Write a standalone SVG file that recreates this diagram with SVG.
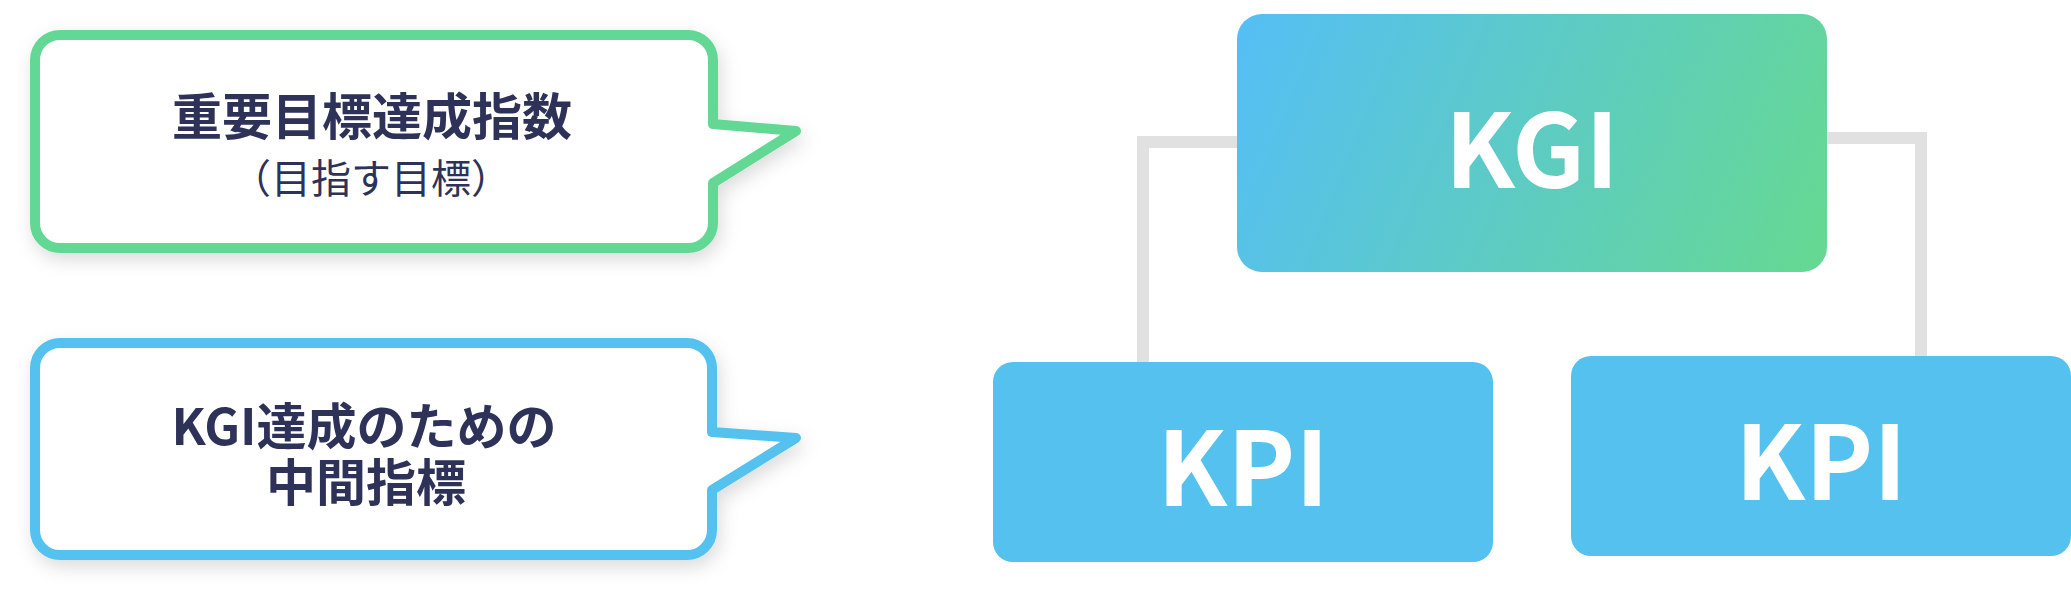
<svg xmlns="http://www.w3.org/2000/svg" width="2071" height="604" viewBox="0 0 2071 604">
  <defs>
    <linearGradient id="kgiGrad" gradientUnits="userSpaceOnUse" x1="1250" y1="30" x2="1815" y2="260">
      <stop offset="0" stop-color="#55bff3"/>
      <stop offset="1" stop-color="#65d893"/>
    </linearGradient>
    <filter id="shadow" x="-10%" y="-20%" width="125%" height="150%">
      <feDropShadow dx="3" dy="7" stdDeviation="9" flood-color="#000000" flood-opacity="0.14"/>
    </filter>
    <style>
      .bubble { fill: #ffffff; stroke-width: 10; stroke-linejoin: round; filter: url(#shadow); }
      .green { stroke: #64d794; }
      .blue { stroke: #55c1ef; }
      .label { font-family: "Noto Sans CJK JP", "Noto Sans", sans-serif; fill: #2e3258; text-anchor: middle; }
      .bold { font-weight: 700; font-size: 50px; }
      .sub { font-weight: 400; font-size: 40px; }
      .box-text { font-family: "Noto Sans CJK JP", "Noto Sans", sans-serif; font-weight: 700; font-size: 102px; fill: #ffffff; text-anchor: middle; }
      .conn { fill: none; stroke: #e1e1e1; stroke-width: 12; stroke-linejoin: miter; }
      .kpi { fill: #55c1ef; }
    </style>
  </defs>

  <g id="connectors">
    <path class="conn" d="M1240,142 H1143 V365"/>
    <path class="conn" d="M1824,138 H1921 V359"/>
  </g>

  <g id="bubble-kgi-desc">
    <path class="bubble green" d="M60,35 H688 A25,25 0 0 1 713,60 V124 L796,131 L713,183 V223 A25,25 0 0 1 688,248 H60 A25,25 0 0 1 35,223 V60 A25,25 0 0 1 60,35 Z"/>
    <text class="label bold" x="372" y="135">重要目標達成指数</text>
    <text class="label sub" x="371" y="193">（目指す目標）</text>
  </g>

  <g id="bubble-kpi-desc">
    <path class="bubble blue" d="M60,343 H687 A25,25 0 0 1 712,368 V432 L796,438 L712,490 V530 A25,25 0 0 1 687,555 H60 A25,25 0 0 1 35,530 V368 A25,25 0 0 1 60,343 Z"/>
    <text class="label bold" x="364" y="445">KGI達成のための</text>
    <text class="label bold" x="366" y="501">中間指標</text>
  </g>

  <g id="node-kgi">
    <rect x="1237" y="14" width="590" height="258" rx="25" ry="25" fill="url(#kgiGrad)"/>
    <text class="box-text" x="1532" y="188">KGI</text>
  </g>

  <g id="node-kpi-left">
    <rect class="kpi" x="993" y="362" width="500" height="200" rx="20" ry="20"/>
    <text class="box-text" x="1243" y="506">KPI</text>
  </g>

  <g id="node-kpi-right">
    <rect class="kpi" x="1571" y="356" width="500" height="200" rx="20" ry="20"/>
    <text class="box-text" x="1821" y="500">KPI</text>
  </g>
</svg>
